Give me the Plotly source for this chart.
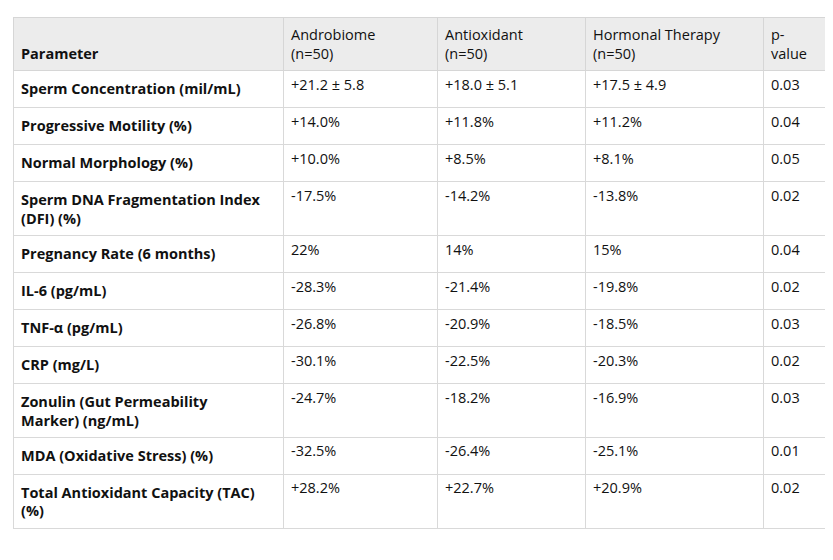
import plotly.graph_objects as go

headers = ["&nbsp;<br>Parameter", "Androbiome<br>(n=50)", "Antioxidant<br>(n=50)", "Hormonal Therapy<br>(n=50)", "p-<br>value"]
parameters = ["Sperm Concentration (mil/mL)", "Progressive Motility (%)", "Normal Morphology (%)",
              "Sperm DNA Fragmentation Index<br>(DFI) (%)", "Pregnancy Rate (6 months)", "IL-6 (pg/mL)",
              "TNF-α (pg/mL)", "CRP (mg/L)", "Zonulin (Gut Permeability<br>Marker) (ng/mL)",
              "MDA (Oxidative Stress) (%)", "Total Antioxidant Capacity (TAC)<br>(%)"]
androbiome = ["+21.2 ± 5.8", "+14.0%", "+10.0%", "-17.5%", "22%", "-28.3%", "-26.8%", "-30.1%", "-24.7%", "-32.5%", "+28.2%"]
antioxidant = ["+18.0 ± 5.1", "+11.8%", "+8.5%", "-14.2%", "14%", "-21.4%", "-20.9%", "-22.5%", "-18.2%", "-26.4%", "+22.7%"]
hormonal = ["+17.5 ± 4.9", "+11.2%", "+8.1%", "-13.8%", "15%", "-19.8%", "-18.5%", "-20.3%", "-16.9%", "-25.1%", "+20.9%"]
pvalues = ["0.03", "0.04", "0.05", "0.02", "0.04", "0.02", "0.03", "0.02", "0.03", "0.01", "0.02"]

fig = go.Figure(go.Table(
    columnwidth=[270, 154, 148, 178, 75],
    header=dict(values=["<b>%s</b>" % h if i == 0 else h for i, h in enumerate(headers)],
                fill_color="#ececec", line_color="#d6d6d6", align="left", height=45,
                font=dict(family="Open Sans", size=14.5, color="#111")),
    cells=dict(values=[["<b>%s</b>" % p for p in parameters], androbiome, antioxidant, hormonal, pvalues],
               fill_color="white", line_color="#d9d9d9", align="left", height=37,
               font=dict(family="Open Sans", size=14.5, color="#111")),
))
fig.update_layout(width=833, height=560, margin=dict(l=5, r=3, t=9, b=0), paper_bgcolor="white")
fig.write_html("out.html")
